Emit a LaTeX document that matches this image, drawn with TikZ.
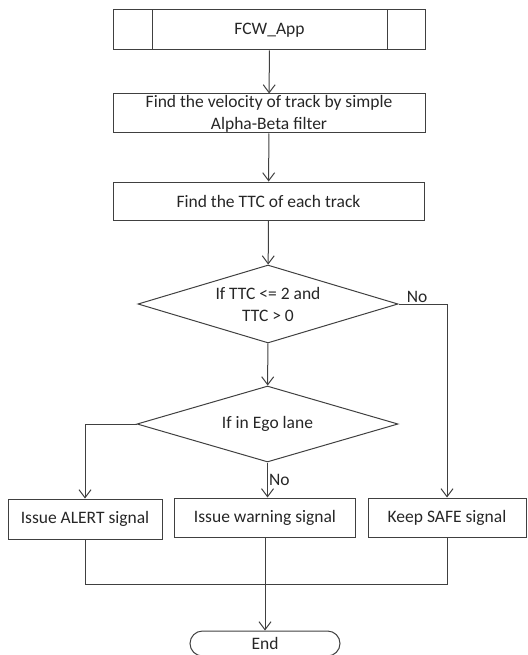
\documentclass[tikz,border=0pt]{standalone}
\usepackage{fontspec}
\setmainfont{Carlito}
\usetikzlibrary{arrows.meta,shapes.geometric,shapes.misc,calc}
\definecolor{linec}{gray}{0.25}
\definecolor{textc}{gray}{0.15}
\begin{document}
\begin{tikzpicture}[x=1pt,y=-1pt,
  every node/.style={text=textc, font=\fontsize{17.5}{22}\selectfont},
  box/.style={draw=linec, line width=1pt, rectangle, inner sep=0pt, align=center},
  dia/.style={draw=linec, line width=1pt, diamond, aspect=3.3, inner sep=0pt, align=center},
  term/.style={draw=linec, line width=1pt, rounded rectangle, inner sep=0pt},
  conn/.style={draw=linec, line width=1pt},
  arr/.style={conn, -{Straight Barb[length=8pt,width=12pt,line width=1pt]}},
  lab/.style={font=\fontsize{17.5}{20}\selectfont, inner sep=1pt}
]
\useasboundingbox (0,0) rectangle (527,655);

\node[box, minimum width=312, minimum height=40] (app) at (269.5,30) {FCW\_App};
\draw[conn] ($(app.north west)+(39,0)$) -- ($(app.south west)+(39,0)$);
\draw[conn] ($(app.north east)+(-39,0)$) -- ($(app.south east)+(-39,0)$);

\node[box, minimum width=312, minimum height=39] (vel) at (269,113.5) {Find the velocity of track by simple\\Alpha-Beta filter};
\node[box, minimum width=311, minimum height=38] (ttc) at (268.5,201) {Find the TTC of each track};

\node[dia, minimum width=260, minimum height=78] (d1) at (268,304) {If TTC <= 2 and\\TTC > 0};
\node[dia, minimum width=261, minimum height=76] (d2) at (267.5,424) {If in Ego lane};

\node[box, minimum width=154, minimum height=40] (alert) at (85,519) {Issue ALERT signal};
\node[box, minimum width=181, minimum height=39] (warn) at (265,517.5) {Issue warning signal};
\node[box, minimum width=158, minimum height=39] (safe) at (447,517.5) {Keep SAFE signal};

\node[term, minimum width=150, minimum height=25] (endn) at (265,643.5) {End};

\draw[arr] (app) -- (vel);
\draw[arr] (vel) -- (ttc);
\draw[arr] (ttc) -- (d1);
\draw[arr] (d1) -- (d2);
\draw[arr] (d1.east) -| node[lab, pos=0.05, above right, xshift=2pt] (no1) {No} (safe.north);
\draw[arr] (d2.west) -| (alert.north);
\draw[arr] (d2.south) -- node[lab, right, xshift=0pt] (no2) {No} (d2.south |- warn.north);

\coordinate (m) at (warn.south |- 0,584);
\draw[conn] (alert.south) |- (m);
\draw[conn] (safe.south) |- (m);
\draw[arr] (warn.south) -- (endn.north);
\end{tikzpicture}
\end{document}
